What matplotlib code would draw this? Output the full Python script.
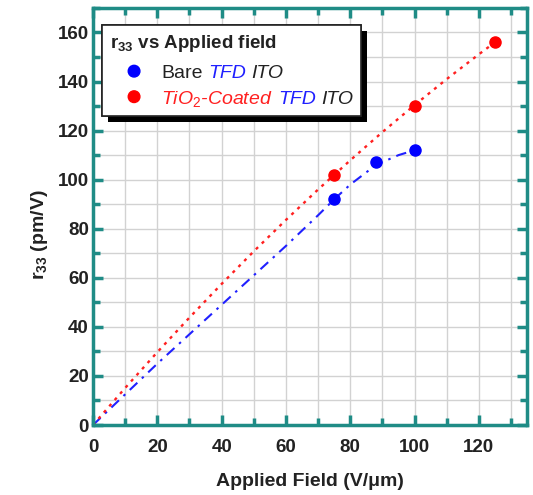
import matplotlib
matplotlib.use("Agg")
import matplotlib.pyplot as plt
import matplotlib.patheffects as pe
from matplotlib.offsetbox import (AnchoredOffsetbox, HPacker, VPacker,
                                  TextArea, DrawingArea)
from matplotlib.patches import Circle
from matplotlib.ticker import MultipleLocator

plt.rcParams['font.family'] = ['Liberation Sans', 'DejaVu Sans']
plt.rcParams['mathtext.fontset'] = 'custom'
plt.rcParams['mathtext.rm'] = 'Liberation Sans'
plt.rcParams['mathtext.it'] = 'Liberation Sans:italic'
plt.rcParams['mathtext.bf'] = 'Liberation Sans:bold'

# measured points
bare_x = [75, 88, 100]
bare_y = [92, 107, 112]
tio2_x = [75, 100, 125]
tio2_y = [102, 130, 156]

# guide curves
bare_fit_x = [0, 10, 20, 30, 40, 50, 60, 70, 75, 80, 88, 95, 100]
bare_fit_y = [0, 12.5, 25, 37, 49, 61, 73, 85.5, 92, 98, 106, 110, 112]
tio2_fit_x = [0, 10, 20, 30, 40, 50, 60, 70, 80, 90, 100, 110, 120, 125]
tio2_fit_y = [0, 15.1, 29.7, 43.8, 57.5, 70.8, 83.6, 96, 107.9, 119.4, 130.4, 141, 151.1, 156]

teal = '#1f8c86'
ink = '#222222'

fig = plt.figure(figsize=(5.33, 4.95), dpi=100)
ax = fig.add_axes([0.1745, 0.1414, 0.8145, 0.8426])

ax.plot(bare_fit_x, bare_fit_y, color='#2020ff', lw=1.5, ls=(0, (5, 3, 1.2, 3)))
ax.plot(tio2_fit_x, tio2_fit_y, color='#ff2020', lw=1.7, ls=(0, (1.3, 2.2)))
ax.plot(bare_x, bare_y, 'o', color='#0000ff', ms=8)
ax.plot(tio2_x, tio2_y, 'o', color='#ff0000', ms=8)

ax.set_xlim(0, 135)
ax.set_ylim(0, 170)
ax.xaxis.set_major_locator(MultipleLocator(20))
ax.xaxis.set_minor_locator(MultipleLocator(10))
ax.yaxis.set_major_locator(MultipleLocator(20))
ax.yaxis.set_minor_locator(MultipleLocator(10))
ax.grid(True, which='both', color='#d2d2d2', lw=1.0)
ax.set_axisbelow(True)

for s in ax.spines.values():
    s.set_color(teal)
    s.set_linewidth(2.5)
ax.tick_params(which='both', direction='in', color=teal, width=2.5,
               top=True, right=True, labelsize=13.5)
ax.tick_params(axis='x', pad=10)
ax.tick_params(axis='y', pad=3)
ax.tick_params(which='major', length=7)
ax.tick_params(which='minor', length=5)
for lab in ax.get_xticklabels() + ax.get_yticklabels():
    lab.set_fontweight('bold')
    lab.set_color(ink)

ax.set_xlabel('Applied Field (V/\u03bcm)', fontsize=14, fontweight='bold',
              color=ink, labelpad=12)
ax.set_ylabel(r'r$_{\mathbf{33}}$ (pm/V)', fontsize=14, fontweight='bold',
              color=ink)
ax.yaxis.set_label_coords(-0.098, 0.455)

# legend built by hand so the words can have different colours
fs = 14


def marker(color):
    da = DrawingArea(37, 10, 0, 0)
    da.add_artist(Circle((17.5, 5), 4.2, color=color))
    return da


def word(txt, color=ink, style='normal', weight='normal', size=fs):
    return TextArea(txt, textprops=dict(color=color, fontsize=size,
                                        style=style, weight=weight))


def entry(color, words):
    return HPacker(children=[marker(color),
                             HPacker(children=words, sep=4, pad=0,
                                     align='baseline')],
                   sep=0, pad=0, align='baseline')


title = word(r'r$_{\mathbf{33}}$ vs Applied field', weight='bold', size=13.5)
row1 = entry('#0000ff', [word('Bare'),
                         word('TFD', '#2020ff', 'italic'),
                         word('ITO', style='italic')])
row2 = entry('#ff0000', [word(r'TiO$_2$-Coated', '#ff2020', 'italic'),
                         word('TFD', '#2020ff', 'italic'),
                         word('ITO', style='italic')])
rows = VPacker(children=[row1, row2], sep=4.7, pad=0, align='left')
box = VPacker(children=[title, rows], sep=7.6, pad=0, align='left')
leg = AnchoredOffsetbox(loc='upper left', child=box, pad=0.55, borderpad=0,
                        frameon=True, bbox_to_anchor=(0.021, 0.959),
                        bbox_transform=ax.transAxes)
leg.patch.set_boxstyle('square', pad=0)
leg.patch.set_edgecolor(ink)
leg.patch.set_linewidth(1.2)
leg.patch.set_path_effects([pe.withSimplePatchShadow(offset=(4.3, -4),
                                                     shadow_rgbFace='k', alpha=1),
                            pe.Normal()])
ax.add_artist(leg)

fig.savefig('out.png', dpi=100)
